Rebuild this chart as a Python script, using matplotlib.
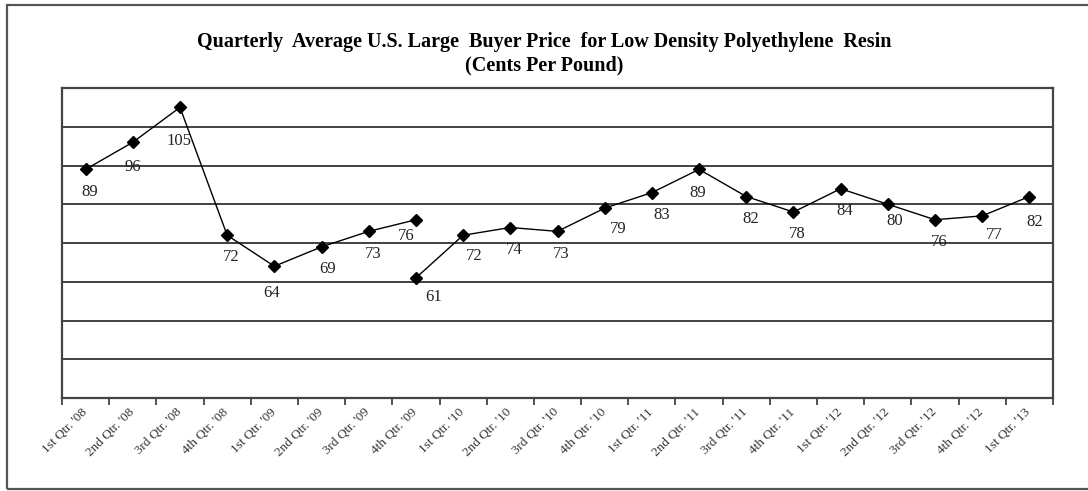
import matplotlib
matplotlib.use("Agg")
import matplotlib.pyplot as plt
from matplotlib.patches import Rectangle

# categorías del eje X (trimestres)
trimestres = ["1st Qtr. '08", "2nd Qtr. '08", "3rd Qtr. '08", "4th Qtr. '08",
              "1st Qtr. '09", "2nd Qtr. '09", "3rd Qtr. '09", "4th Qtr. '09",
              "1st Qtr. '10", "2nd Qtr. '10", "3rd Qtr. '10", "4th Qtr. '10",
              "1st Qtr. '11", "2nd Qtr. '11", "3rd Qtr. '11", "4th Qtr. '11",
              "1st Qtr. '12", "2nd Qtr. '12", "3rd Qtr. '12", "4th Qtr. '12",
              "1st Qtr. '13"]

# tramo 1: 1st Qtr '08 .. 4th Qtr '09
precios_a = [89, 96, 105, 72, 64, 69, 73, 76]
# tramo 2: 4th Qtr '09 (nueva base) .. 1st Qtr '13
precios_b = [61, 72, 74, 73, 79, 83, 89, 82, 78, 84, 80, 76, 77, 82]

x_a = list(range(0, len(precios_a)))
x_b = list(range(len(precios_a) - 1, len(trimestres)))

plt.rcParams['font.family'] = ['Liberation Serif', 'DejaVu Serif']

fig = plt.figure(figsize=(10.88, 4.91), dpi=100)
ax = fig.add_axes([62 / 1088, 1 - 398 / 491, (1053 - 62) / 1088, (398 - 88) / 491])

# borde exterior del gráfico
fig.patches.append(Rectangle((7 / 1088, 1 - 489 / 491), 1.1, (489 - 5) / 491,
                             transform=fig.transFigure, fill=False,
                             edgecolor='#555555', linewidth=1.6))

for xs, ys in [(x_a, precios_a), (x_b, precios_b)]:
    ax.plot(xs, ys, color='black', linewidth=1.0, marker='D', markersize=6.5,
            markerfacecolor='black', markeredgecolor='black', zorder=3)

# etiquetas de datos (debajo del punto)
def etiquetar(xs, ys, ajustes):
    for x, y, (dx, dy) in zip(xs, ys, ajustes):
        ax.annotate(str(y), (x, y), xytext=(dx, dy), textcoords='offset points',
                    ha='center', va='center', fontsize=12, color='#222222')

base = (3, -16)
aj_a = [base] * len(precios_a)
aj_a[1] = (0, -18)
aj_a[2] = (-1, -24)
aj_a[4] = (-2, -19)
aj_a[5] = (4, -16)
aj_a[7] = (-7, -12)
aj_b = [base] * len(precios_b)
aj_b[0] = (13, -14)
aj_b[1] = (8, -15)
aj_b[4] = (10, -15)
aj_b[5] = (7, -16)
aj_b[6] = (-1, -17)
aj_b[10] = (5, -12)
aj_b[12] = (9, -14)
aj_b[13] = (4, -18)
etiquetar(x_a, precios_a, aj_a)
etiquetar(x_b, precios_b, aj_b)

ax.set_xlim(-0.5, len(trimestres) - 0.5)
ax.set_ylim(30, 110)
ax.set_yticks(range(30, 111, 10))
ax.set_yticklabels([])
ax.tick_params(axis='y', length=0)
ax.grid(axis='y', color='#333333', linewidth=1.3)
ax.set_axisbelow(True)

# marcas entre categorías, texto centrado en cada categoría
ax.set_xticks([i - 0.5 for i in range(len(trimestres) + 1)])
ax.set_xticklabels([])
ax.tick_params(axis='x', direction='out', length=5, width=1.2, color='#333333')
for i, t in enumerate(trimestres):
    ax.text(i + 0.08, 27.9, t, rotation=45, ha='right', va='top',
            fontsize=9.5, color='#333333')

for s in ax.spines.values():
    s.set_color('#444444')
    s.set_linewidth(1.6)

fig.text(0.5, 1 - 42 / 491,
         "Quarterly  Average U.S. Large  Buyer Price  for Low Density Polyethylene  Resin",
         ha='center', va='center', fontsize=14.5, fontweight='bold')
fig.text(0.5, 1 - 65 / 491, "(Cents Per Pound)",
         ha='center', va='center', fontsize=14.5, fontweight='bold')

fig.savefig("out.png", dpi=100)
